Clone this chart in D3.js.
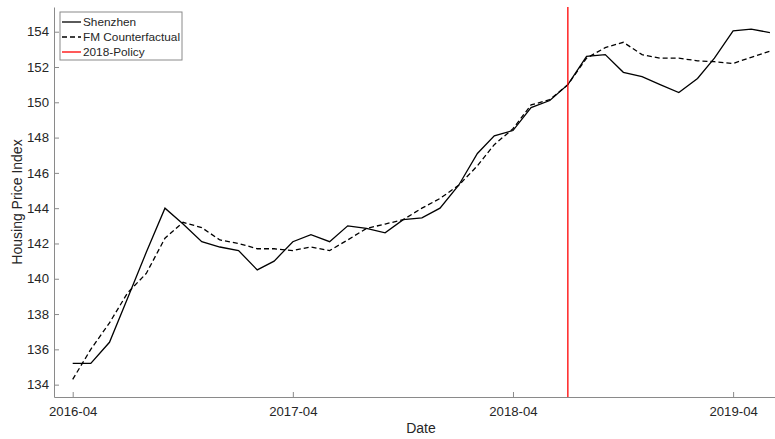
<!DOCTYPE html>
<html>
<head>
<meta charset="utf-8">
<script src="https://cdn.jsdelivr.net/npm/d3@7"></script>
<style>
  html, body { margin: 0; padding: 0; background: #fff; }
  svg { display: block; font-family: "Liberation Sans", Arial, Helvetica, sans-serif; }
</style>
</head>
<body>
<svg id="chart" width="775" height="439"></svg>
<script>
// Monthly observations, 2016-04 through 2019-06
const months = [
  "2016-04","2016-05","2016-06","2016-07","2016-08","2016-09","2016-10","2016-11","2016-12",
  "2017-01","2017-02","2017-03","2017-04","2017-05","2017-06","2017-07","2017-08","2017-09","2017-10","2017-11","2017-12",
  "2018-01","2018-02","2018-03","2018-04","2018-05","2018-06","2018-07","2018-08","2018-09","2018-10","2018-11","2018-12",
  "2019-01","2019-02","2019-03","2019-04","2019-05","2019-06"
];
const shenzhen = [
  135.2,135.2,136.4,138.9,141.5,144.0,143.1,142.1,141.8,
  141.6,140.5,141.0,142.1,142.5,142.1,143.0,142.85,142.6,143.35,143.45,144.0,
  145.3,147.1,148.1,148.4,149.7,150.1,151.0,152.6,152.7,151.7,151.45,151.0,
  150.55,151.35,152.5,154.05,154.15,153.95
];
const counterfactual = [
  134.3,136.0,137.5,139.2,140.3,142.3,143.2,142.9,142.2,
  142.0,141.7,141.7,141.6,141.8,141.6,142.2,142.85,143.1,143.35,144.0,144.55,
  145.3,146.4,147.6,148.5,149.85,150.15,151.0,152.5,153.1,153.4,152.7,152.5,
  152.5,152.35,152.3,152.2,152.55,152.9
];
const policyMonth = "2018-07";
const xTickLabels = ["2016-04","2017-04","2018-04","2019-04"];
const yTickValues = [134,136,138,140,142,144,146,148,150,152,154];
const legendLabels = ["Shenzhen","FM Counterfactual","2018-Policy"];

const parseMonth = d3.timeParse("%Y-%m");
const fmtMonth = d3.timeFormat("%Y-%m");

const svg = d3.select("#chart");
const plotLeft = 54, plotRight = 788, plotTop = 7, plotBottom = 397;

const x = d3.scaleTime()
  .domain([parseMonth("2016-03"), parseMonth("2019-07")])
  .range([plotLeft, plotRight]);
const y = d3.scaleLinear()
  .domain([133.3, 155.4])
  .range([plotBottom, plotTop]);

const axisColor = "#8a8a8a";
const textColor = "#262626";

// Axes (ticks point inward)
const xAxis = svg.append("g")
  .attr("transform", `translate(0,${plotBottom})`)
  .call(d3.axisBottom(x)
    .tickValues(xTickLabels.map(parseMonth))
    .tickFormat(fmtMonth)
    .tickSizeInner(-5).tickSizeOuter(0).tickPadding(10));
const yAxis = svg.append("g")
  .attr("transform", `translate(${plotLeft},0)`)
  .call(d3.axisLeft(y)
    .tickValues(yTickValues)
    .tickSizeInner(-5).tickSizeOuter(0).tickPadding(5));

[xAxis, yAxis].forEach(g => {
  g.select(".domain").attr("stroke", axisColor).attr("stroke-width", 1);
  g.selectAll(".tick line").attr("stroke", axisColor);
  g.selectAll(".tick text")
    .attr("fill", textColor)
    .style("font-size", "13.2px")
    .style("font-family", "'Liberation Sans', Arial, sans-serif");
});

// Axis titles
svg.append("text")
  .attr("x", (plotLeft + plotRight) / 2).attr("y", 433)
  .attr("text-anchor", "middle")
  .attr("fill", textColor)
  .style("font-size", "14px")
  .text("Date");
svg.append("text")
  .attr("transform", `translate(22,${(plotTop + plotBottom) / 2}) rotate(-90)`)
  .attr("text-anchor", "middle")
  .attr("fill", textColor)
  .style("font-size", "14px")
  .text("Housing Price Index");

// Series lines
const line = d3.line()
  .x((d, i) => x(parseMonth(months[i])))
  .y(d => y(d));

svg.append("path")
  .datum(counterfactual)
  .attr("d", line)
  .attr("fill", "none")
  .attr("stroke", "#000")
  .attr("stroke-width", 1.3)
  .attr("stroke-dasharray", "5,3");

svg.append("path")
  .datum(shenzhen)
  .attr("d", line)
  .attr("fill", "none")
  .attr("stroke", "#000")
  .attr("stroke-width", 1.3);

// Policy marker
svg.append("line")
  .attr("x1", x(parseMonth(policyMonth))).attr("x2", x(parseMonth(policyMonth)))
  .attr("y1", plotTop).attr("y2", plotBottom)
  .attr("stroke", "#ff0000")
  .attr("stroke-width", 1.3);

// Legend
const legend = svg.append("g");
legend.append("rect")
  .attr("x", 60).attr("y", 12).attr("width", 122).attr("height", 48)
  .attr("fill", "#fff").attr("stroke", "#8a8a8a").attr("stroke-width", 1);
const legendStyles = [
  { stroke: "#000", dash: null },
  { stroke: "#000", dash: "5,3" },
  { stroke: "#ff0000", dash: null }
];
legendLabels.forEach((label, i) => {
  const cy = 22 + i * 15;
  legend.append("line")
    .attr("x1", 62).attr("x2", 81).attr("y1", cy).attr("y2", cy)
    .attr("stroke", legendStyles[i].stroke)
    .attr("stroke-width", 1.3)
    .attr("stroke-dasharray", legendStyles[i].dash);
  legend.append("text")
    .attr("x", 83).attr("y", cy + 4.3)
    .attr("fill", textColor)
    .style("font-size", "11.8px")
    .text(label);
});
</script>
</body>
</html>
